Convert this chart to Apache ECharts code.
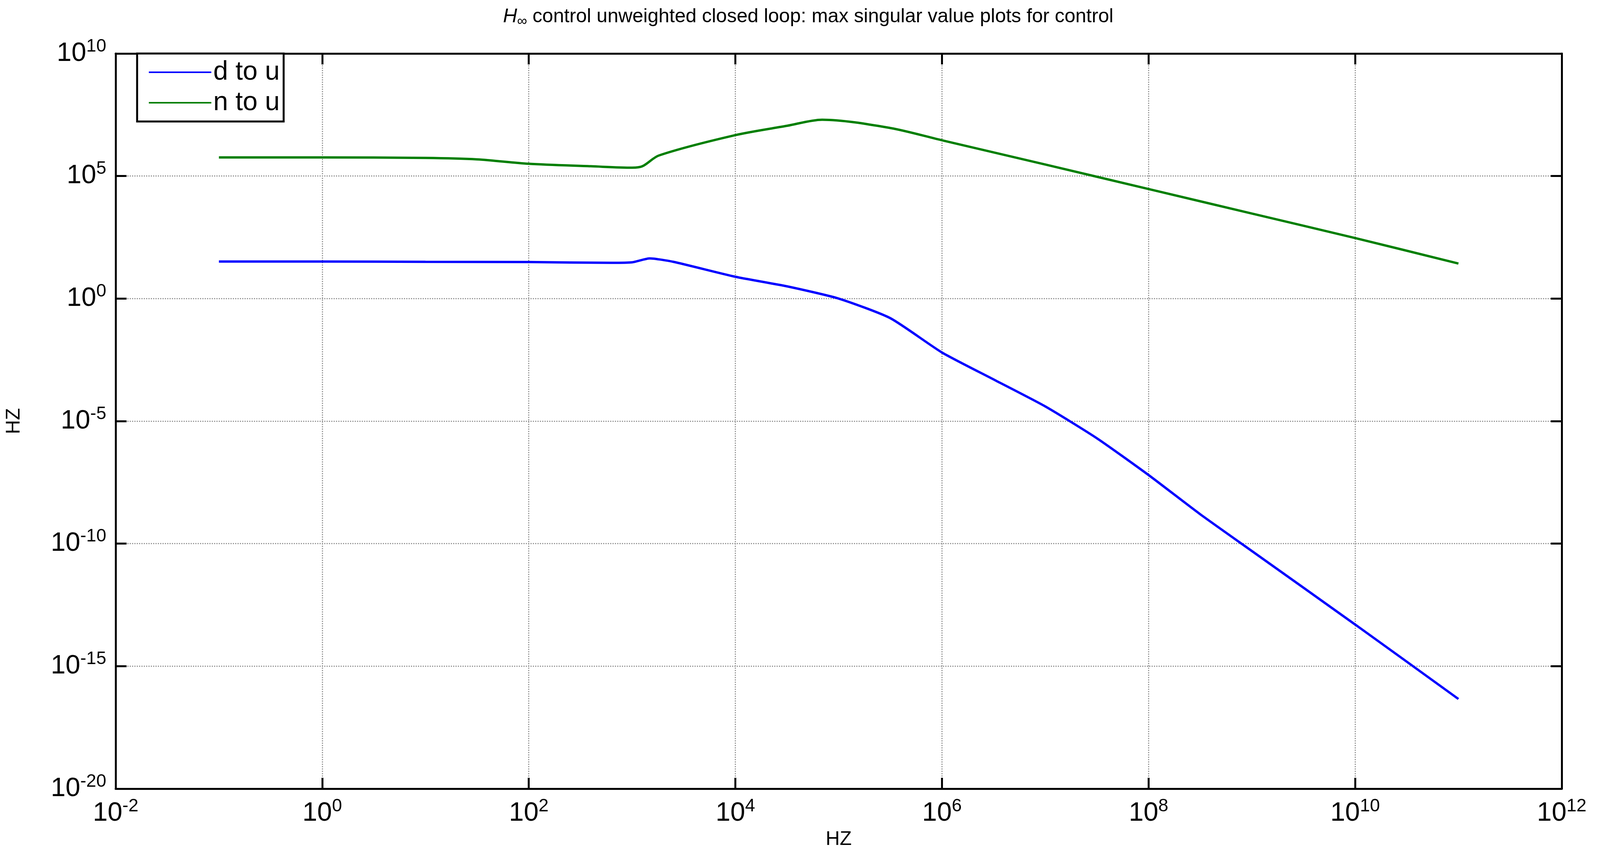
<!DOCTYPE html>
<html>
<head>
<meta charset="UTF-8">
<script src="https://cdn.jsdelivr.net/npm/echarts@6/dist/echarts.min.js"></script>
<style>html,body{margin:0;padding:0;background:#fff}#main{width:4138px;height:2222px}</style>
</head>
<body>
<div id="main"></div>
<script>
// frequency (Hz) and max singular values
var dToU = [
  [1e-1, 10**1.51], [1e0, 10**1.51], [1e1, 10**1.50], [1e2, 10**1.49], [10**2.8, 10**1.46],
  [1e3, 10**1.48], [10**3.17, 10**1.64], [10**3.4, 10**1.5], [1e4, 10**0.89], [10**4.5, 10**0.5],
  [1e5, 10**0.0], [10**5.5, 10**-0.8], [1e6, 10**-2.2], [10**6.5, 10**-3.3], [1e7, 10**-4.4],
  [10**7.5, 10**-5.7], [1e8, 10**-7.2], [10**8.5, 10**-8.8], [1e9, 10**-10.3], [1e10, 10**-13.3],
  [1e11, 10**-16.34]
];
var nToU = [
  [1e-1, 10**5.76], [1e0, 10**5.76], [1e1, 10**5.74], [10**1.5, 10**5.68], [1e2, 10**5.5],
  [10**2.6, 10**5.4], [1e3, 10**5.34], [10**3.1, 10**5.4], [10**3.26, 10**5.84], [1e4, 10**6.67],
  [10**4.5, 10**7.05], [10**4.84, 10**7.3], [10**5.5, 10**6.96], [1e6, 10**6.46], [1e7, 10**5.47],
  [1e8, 10**4.47], [1e9, 10**3.47], [1e10, 10**2.47], [1e11, 10**1.43]
];

var chart = echarts.init(document.getElementById('main'));
function supFmt(v) {
  var e = Math.round(Math.log10(v));
  return '{b|10}{s|' + e + '}';
}
var labelRich = {
  b: {fontSize: 68, color: '#000', fontFamily: 'Liberation Sans'},
  s: {fontSize: 46, color: '#000', fontFamily: 'Liberation Sans', verticalAlign: 'top', padding: [0, 0, 36, 0]}
};
function axisBase() {
  return {
    type: 'log', logBase: 10,
    axisLine: {show: true, lineStyle: {color: '#000', width: 5}},
    axisTick: {show: true, inside: true, length: 28, lineStyle: {color: '#000', width: 5}},
    minorTick: {show: false},
    splitLine: {show: false}
  };
}
var xMain = Object.assign(axisBase(), {
  min: 1e-2, max: 1e12, interval: 2, position: 'bottom',
  name: 'HZ', nameLocation: 'middle', nameGap: 105,
  nameTextStyle: {fontSize: 50, color: '#000', fontFamily: 'Liberation Sans'},
  axisLabel: {formatter: supFmt, rich: labelRich, margin: 22},
  splitLine: {show: true, lineStyle: {color: '#999', type: 'dotted', width: 3}}
});
var xTop = Object.assign(axisBase(), {min: 1e-2, max: 1e12, interval: 2, position: 'top', axisLabel: {show: false}});
var yMain = Object.assign(axisBase(), {
  min: 1e-20, max: 1e10, interval: 5, position: 'left',
  name: 'HZ', nameLocation: 'middle', nameGap: 235,
  nameTextStyle: {fontSize: 50, color: '#000', fontFamily: 'Liberation Sans'},
  axisLabel: {formatter: supFmt, rich: labelRich, margin: 24},
  splitLine: {show: true, lineStyle: {color: '#999', type: 'dotted', width: 3}}
});
var yRight = Object.assign(axisBase(), {min: 1e-20, max: 1e10, interval: 5, position: 'right', axisLabel: {show: false}});

chart.setOption({
  backgroundColor: '#fff',
  animation: false,
  title: {
    text: '{i|H}{s|∞}{t| control unweighted closed loop: max singular value plots for control}',
    left: 'center', top: 8,
    textStyle: {
      fontWeight: 'normal',
      rich: {
        i: {fontSize: 50, fontStyle: 'italic', fontWeight: 'normal', fontFamily: 'Liberation Sans', color: '#000'},
        s: {fontSize: 36, fontWeight: 'normal', fontFamily: 'Liberation Sans', color: '#000', verticalAlign: 'bottom', padding: [24, 0, 0, 0]},
        t: {fontSize: 50, fontWeight: 'normal', fontFamily: 'Liberation Sans', color: '#000'}
      }
    }
  },
  grid: {left: 296, right: 140, top: 137, bottom: 203, containLabel: false},
  legend: {
    left: 351, top: 137, orient: 'vertical',
    backgroundColor: '#fff', borderColor: '#000', borderWidth: 5,
    padding: [14, 10, 14, 30], itemGap: 10,
    itemWidth: 160, itemHeight: 20,
    icon: 'path://M0,8 L160,8 L160,12 L0,12 Z',
    textStyle: {fontSize: 68, color: '#000', fontFamily: 'Liberation Sans'},
    data: ['d to u', 'n to u']
  },
  xAxis: [xMain, xTop],
  yAxis: [yMain, yRight],
  series: [
    {name: 'd to u', type: 'line', data: dToU, smooth: 0.2, showSymbol: false,
     lineStyle: {color: '#0000ff', width: 6}, itemStyle: {color: '#0000ff'}},
    {name: 'n to u', type: 'line', data: nToU, smooth: 0.3, showSymbol: false,
     lineStyle: {color: '#007f00', width: 6}, itemStyle: {color: '#007f00'}}
  ]
});
</script>
</body>
</html>
